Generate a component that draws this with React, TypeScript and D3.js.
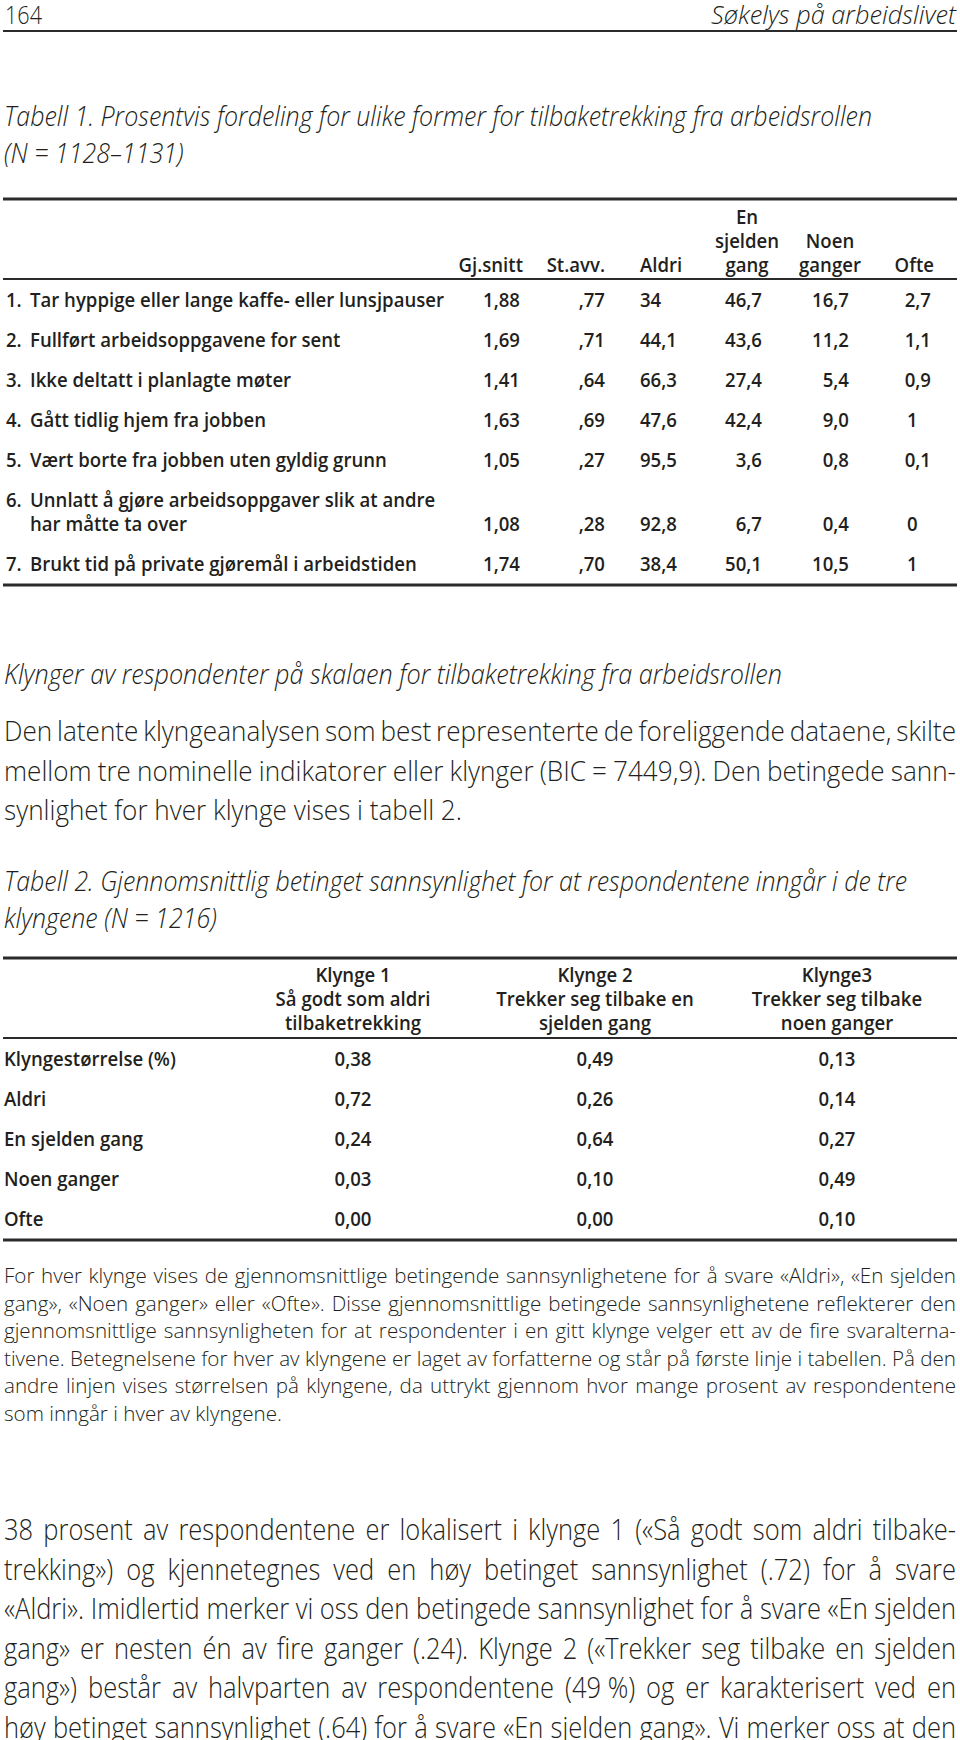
import React, { useEffect, useRef } from "react";
import * as d3 from "d3";

const W = 960;
const H = 1740;
const INK = "#231f20";
const FONT = "'Open Sans', 'Noto Sans', 'DejaVu Sans', sans-serif";

// ---------- content ----------
const pageNumber = "164";
const runningTitle = "Søkelys på arbeidslivet";

const table1Title = [
  "Tabell 1. Prosentvis fordeling for ulike former for tilbaketrekking fra arbeidsrollen",
  "(N = 1128–1131)",
];
const table1Headers = [["Gj.snitt"], ["St.avv."], ["Aldri"], ["En", "sjelden", "gang"], ["Noen", "ganger"], ["Ofte"]];
const table1Numbers = ["1.", "2.", "3.", "4.", "5.", "6.", "7."];
const table1Items = [
  ["Tar hyppige eller lange kaffe- eller lunsjpauser"],
  ["Fullført arbeidsoppgavene for sent"],
  ["Ikke deltatt i planlagte møter"],
  ["Gått tidlig hjem fra jobben"],
  ["Vært borte fra jobben uten gyldig grunn"],
  ["Unnlatt å gjøre arbeidsoppgaver slik at andre", "har måtte ta over"],
  ["Brukt tid på private gjøremål i arbeidstiden"],
];
const gjSnitt = ["1,88", "1,69", "1,41", "1,63", "1,05", "1,08", "1,74"];
const stAvv = [",77", ",71", ",64", ",69", ",27", ",28", ",70"];
const aldri = ["34", "44,1", "66,3", "47,6", "95,5", "92,8", "38,4"];
const enSjelden = ["46,7", "43,6", "27,4", "42,4", "3,6", "6,7", "50,1"];
const noenGanger = ["16,7", "11,2", "5,4", "9,0", "0,8", "0,4", "10,5"];
const ofte = ["2,7", "1,1", "0,9", "1", "0,1", "0", "1"];

const sectionHeading = "Klynger av respondenter på skalaen for tilbaketrekking fra arbeidsrollen";
const paragraph1 = [
  "Den latente klyngeanalysen som best representerte de foreliggende dataene, skilte",
  "mellom tre nominelle indikatorer eller klynger (BIC = 7449,9). Den betingede sann-",
  "synlighet for hver klynge vises i tabell 2.",
];
const table2Title = [
  "Tabell 2. Gjennomsnittlig betinget sannsynlighet for at respondentene inngår i de tre",
  "klyngene (N = 1216)",
];
const clusterNames = ["Klynge 1", "Klynge 2", "Klynge3"];
const clusterDescriptions = [
  ["Så godt som aldri", "tilbaketrekking"],
  ["Trekker seg tilbake en", "sjelden gang"],
  ["Trekker seg tilbake", "noen ganger"],
];
const table2Rows = ["Klyngestørrelse (%)", "Aldri", "En sjelden gang", "Noen ganger", "Ofte"];
const klynge1 = [0.38, 0.72, 0.24, 0.03, 0.0];
const klynge2 = [0.49, 0.26, 0.64, 0.1, 0.0];
const klynge3 = [0.13, 0.14, 0.27, 0.49, 0.1];

const noteLines = [
  "For hver klynge vises de gjennomsnittlige betingende sannsynlighetene for å svare «Aldri», «En sjelden",
  "gang», «Noen ganger» eller «Ofte». Disse gjennomsnittlige betingede sannsynlighetene reflekterer den",
  "gjennomsnittlige sannsynligheten for at respondenter i en gitt klynge velger ett av de fire svaralterna-",
  "tivene. Betegnelsene for hver av klyngene er laget av forfatterne og står på første linje i tabellen. På den",
  "andre linjen vises størrelsen på klyngene, da uttrykt gjennom hvor mange prosent av respondentene",
  "som inngår i hver av klyngene.",
];
const paragraph2 = [
  "38 prosent av respondentene er lokalisert i klynge 1 («Så godt som aldri tilbake-",
  "trekking») og kjennetegnes ved en høy betinget sannsynlighet (.72) for å svare",
  "«Aldri». Imidlertid merker vi oss den betingede sannsynlighet for å svare «En sjelden",
  "gang» er nesten én av fire ganger (.24). Klynge 2 («Trekker seg tilbake en sjelden",
  "gang») består av halvparten av respondentene (49\u00a0%) og er karakterisert ved en",
  "høy betinget sannsynlighet (.64) for å svare «En sjelden gang». Vi merker oss at den",
];

type St = { size: number; weight: number; italic: boolean; sx: number };

export default function App() {
  const ref = useRef<SVGSVGElement | null>(null);

  useEffect(() => {
    const svg = d3.select(ref.current as SVGSVGElement);
    svg.selectAll("*").remove();
    const g = svg.append("g");

    const styleText = (sel: any, st: St) =>
      sel
        .attr("font-family", FONT)
        .attr("font-size", st.size)
        .attr("font-weight", st.weight)
        .attr("font-style", st.italic ? "italic" : "normal")
        .attr("fill", INK);

    const measure = (str: string, st: St) => {
      const t = styleText(g.append("text"), st).text(str);
      const w = (t.node() as SVGTextElement).getComputedTextLength();
      t.remove();
      return w;
    };
    const calib = (st: St, str: string, target: number) => {
      st.sx = target / measure(str, st);
      return st;
    };
    const put = (str: string, x: number, y: number, st: St, anchor = "start", width?: number) => {
      const t = styleText(g.append("text"), st).text(str);
      const nat = (t.node() as SVGTextElement).getComputedTextLength();
      const w = width ?? nat * st.sx;
      const x0 = anchor === "end" ? x - w : anchor === "middle" ? x - w / 2 : x;
      t.attr("x", x0).attr("y", y).attr("textLength", w).attr("lengthAdjust", "spacingAndGlyphs");
      return w;
    };
    const justify = (str: string, x0: number, x1: number, y: number, st: St) => {
      const words = str.split(" ");
      const ws = words.map((w) => measure(w, st) * st.sx);
      const total = d3.sum(ws);
      const gap = (x1 - x0 - total) / Math.max(1, words.length - 1);
      const space = (measure("a a", st) - measure("aa", st)) * st.sx;
      if (gap < space * 0.55) {
        put(str, x0, y, st, "start", x1 - x0);
        return;
      }
      let x = x0;
      words.forEach((w, i) => {
        put(w, x, y, st, "start", ws[i]);
        x += ws[i] + gap;
      });
    };

    const L = 4;
    const R = 956;

    // ---------- styles ----------
    const runSt = calib({ size: 26, weight: 300, italic: true, sx: 1 }, runningTitle, 245);
    const numSt: St = { size: 26, weight: 300, italic: false, sx: runSt.sx * 1.05 };
    const titleSt = calib({ size: 27, weight: 300, italic: true, sx: 1 }, table1Title[0], 868);
    const tblSt = calib({ size: 19, weight: 600, italic: false, sx: 1 }, table1Items[0][0], 414);
    const bodySt = calib({ size: 28, weight: 300, italic: false, sx: 1 }, paragraph1[2], 458);
    const noteSt = calib({ size: 20, weight: 300, italic: false, sx: 1 }, noteLines[5], 278);
    const para2St = calib({ size: 29, weight: 300, italic: false, sx: 1 }, paragraph2[2], R - L);

    // ---------- rules ----------
    const rules = [
      { y: 31, w: 2.2 },
      { y: 199, w: 2.8 },
      { y: 279, w: 2 },
      { y: 585, w: 3 },
      { y: 958, w: 2.8 },
      { y: 1038, w: 2 },
      { y: 1240, w: 3 },
    ];
    g.selectAll("line.rule")
      .data(rules)
      .join("line")
      .attr("x1", 3)
      .attr("x2", 957)
      .attr("y1", (d) => d.y)
      .attr("y2", (d) => d.y)
      .attr("stroke", "#2b2b2b")
      .attr("stroke-width", (d) => d.w);

    // ---------- running head ----------
    put(pageNumber, 5, 24, numSt, "start", 37);
    put(runningTitle, R, 24, runSt, "end");

    // ---------- table 1 ----------
    put(table1Title[0], L, 126, titleSt, "start", 868);
    put(table1Title[1], L, 163, titleSt);

    const hdrY = d3.scaleLinear().domain([0, 2]).range([224, 272]);
    const colAnchor = [
      { hx: 523, ha: "end", vx: 520 },
      { hx: 605, ha: "end", vx: 605 },
      { hx: 640, ha: "start", vx: 640 },
      { hx: 747, ha: "middle", vx: 762 },
      { hx: 830, ha: "middle", vx: 849 },
      { hx: 934, ha: "end", vx: 931 },
    ];
    table1Headers.forEach((lines, c) => {
      lines.forEach((ln, k) => {
        put(ln, colAnchor[c].hx, hdrY(3 - lines.length + k), tblSt, colAnchor[c].ha);
      });
    });

    const rowY = d3.scaleLinear().domain([0, 1]).range([307, 347]);
    const lineGap = 24;
    const rowBase = (i: number) => rowY(i) + (i > 5 ? lineGap : 0);
    const columns = [gjSnitt, stAvv, aldri, enSjelden, noenGanger, ofte];
    table1Items.forEach((lines, i) => {
      const y0 = rowBase(i);
      put(table1Numbers[i], 6, y0, tblSt);
      lines.forEach((ln, k) => put(ln, 30, y0 + k * lineGap, tblSt));
      const yv = y0 + (lines.length - 1) * lineGap;
      columns.forEach((col, c) => {
        const v = col[i];
        if (c === 2) put(v, colAnchor[c].vx, yv, tblSt, "start");
        else if (c === 5 && !v.includes(",")) put(v, 907, yv, tblSt, "start");
        else put(v, colAnchor[c].vx, yv, tblSt, "end");
      });
    });

    // ---------- section ----------
    put(sectionHeading, L, 684, titleSt, "start", 778);
    const p1Y = d3.scaleLinear().domain([0, 1]).range([741, 780.5]);
    paragraph1.forEach((ln, i) => {
      if (i < paragraph1.length - 1) justify(ln, L, R, p1Y(i), bodySt);
      else put(ln, L, p1Y(i), bodySt);
    });

    // ---------- table 2 ----------
    put(table2Title[0], L, 891, titleSt, "start", 903);
    put(table2Title[1], L, 928, titleSt);

    const cx = d3.scalePoint<string>().domain(clusterNames).range([353, 837]);
    const h2Y = d3.scaleLinear().domain([0, 2]).range([982, 1030]);
    clusterNames.forEach((name, c) => {
      put(name, cx(name)!, h2Y(0), tblSt, "middle");
      clusterDescriptions[c].forEach((ln, k) => put(ln, cx(name)!, h2Y(k + 1), tblSt, "middle"));
    });
    const r2Y = d3.scaleLinear().domain([0, 4]).range([1066, 1226]);
    const fmt = (v: number) => d3.format(".2f")(v).replace(".", ",");
    const clusterValues = [klynge1, klynge2, klynge3];
    table2Rows.forEach((lab, i) => {
      put(lab, L, r2Y(i), tblSt);
      clusterValues.forEach((vals, c) => put(fmt(vals[i]), cx(clusterNames[c])!, r2Y(i), tblSt, "middle"));
    });

    // ---------- note ----------
    const nY = d3.scaleLinear().domain([0, 1]).range([1283, 1310.6]);
    noteLines.forEach((ln, i) => {
      if (i < noteLines.length - 1) justify(ln, L, R, nY(i), noteSt);
      else put(ln, L, nY(i), noteSt);
    });

    // ---------- paragraph 2 ----------
    const p2Y = d3.scaleLinear().domain([0, 1]).range([1540, 1579.5]);
    paragraph2.forEach((ln, i) => justify(ln, L, R, p2Y(i), para2St));
  }, []);

  return (
    <svg
      ref={ref}
      width={W}
      height={H}
      viewBox={`0 0 ${W} ${H}`}
      style={{ position: "absolute", left: 0, top: 0, background: "#fff" }}
    />
  );
}
